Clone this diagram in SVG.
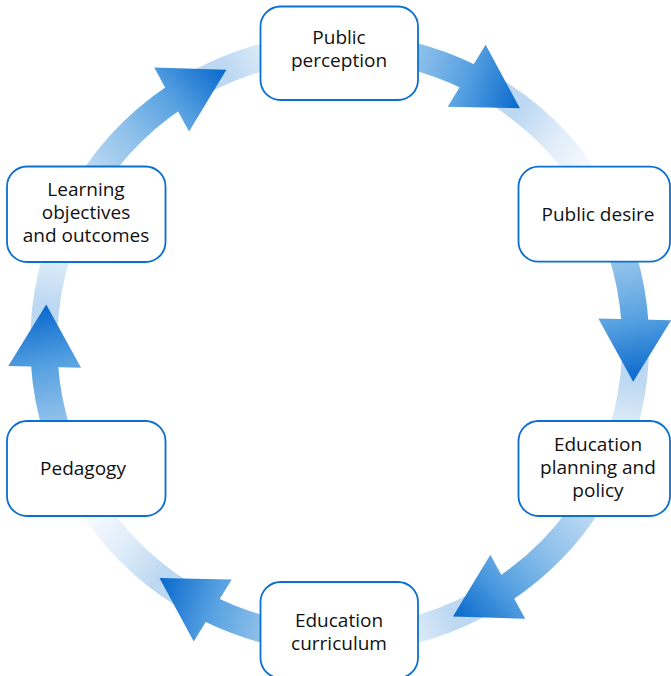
<svg xmlns="http://www.w3.org/2000/svg" xmlns:xlink="http://www.w3.org/1999/xlink" width="671" height="676" viewBox="0 0 671 676">
  <style>
    .box { fill: #ffffff; stroke: #0b6fcf; stroke-width: 1.8; }
    .label { font-family: "Open Sans", "Noto Sans", "Liberation Sans", sans-serif; font-size: 19px; fill: #111111; text-anchor: middle; }
    .band { fill: none; stroke-width: 27; stroke-linecap: butt; }
  </style>
  <defs>
    <!-- shaft + head shading: light behind the source node, deep blue at the tip -->
    <linearGradient id="shaftGrad" gradientUnits="userSpaceOnUse" x1="226.75" y1="-190.27" x2="296" y2="0">
      <stop offset="0" stop-color="#d6e8f8"/>
      <stop offset="0.2" stop-color="#b6d6f2"/>
      <stop offset="0.45" stop-color="#8cbfea"/>
      <stop offset="0.7" stop-color="#57a1e1"/>
      <stop offset="1" stop-color="#0868cc"/>
    </linearGradient>
    <!-- faint trail past the tip, fading out toward the next node -->
    <linearGradient id="tailGrad" gradientUnits="userSpaceOnUse" x1="296" y1="0" x2="300" y2="135">
      <stop offset="0" stop-color="#bcd8f2"/>
      <stop offset="0.35" stop-color="#e0edf9"/>
      <stop offset="0.7" stop-color="#f8fbfe"/>
      <stop offset="1" stop-color="#ffffff"/>
    </linearGradient>
    <!-- one curved arrow on the ring (radius 296), tip at angle 0 -->
    <g id="ringArrow">
      <path class="band" stroke="url(#tailGrad)" d="M 294.87 -25.80 A 296 296 0 0 1 268.27 125.10"/>
      <path class="band" stroke="url(#shaftGrad)" d="M 226.75 -190.27 A 296 296 0 0 1 290.56 -56.48"/>
      <polygon fill="url(#shaftGrad)" points="296,0 325.6,-65.9 253.2,-58.2"/>
    </g>
  </defs>

  <rect width="671" height="676" fill="#ffffff"/>

  <g id="connectors">
    <use id="arrow-perception-desire" xlink:href="#ringArrow" transform="translate(339.7 343.1) rotate(-52.5)"/>
    <use id="arrow-desire-planning" xlink:href="#ringArrow" transform="translate(339.7 343.1) rotate(7.5)"/>
    <use id="arrow-planning-curriculum" xlink:href="#ringArrow" transform="translate(339.7 343.1) rotate(67.5)"/>
    <use id="arrow-curriculum-pedagogy" xlink:href="#ringArrow" transform="translate(339.7 343.1) rotate(127.5)"/>
    <use id="arrow-pedagogy-learning" xlink:href="#ringArrow" transform="translate(339.7 343.1) rotate(187.5)"/>
    <use id="arrow-learning-perception" xlink:href="#ringArrow" transform="translate(339.7 343.1) rotate(247.5)"/>
  </g>

  <g id="node-public-perception">
    <rect class="box" x="260.5" y="6.5" width="157.5" height="93.5" rx="20"/>
    <text class="label" x="339" y="44.3">Public<tspan x="339" dy="22.7">perception</tspan></text>
  </g>

  <g id="node-public-desire">
    <rect class="box" x="518.5" y="166.7" width="151.5" height="95" rx="20"/>
    <text class="label" x="598" y="220.7">Public desire</text>
  </g>

  <g id="node-education-planning">
    <rect class="box" x="518.5" y="421" width="151.5" height="95" rx="20"/>
    <text class="label" x="598" y="450.5">Education<tspan x="598" dy="23">planning and</tspan><tspan x="598" dy="23">policy</tspan></text>
  </g>

  <g id="node-education-curriculum">
    <rect class="box" x="260.5" y="582" width="157.5" height="96" rx="20"/>
    <text class="label" x="339" y="627.3">Education<tspan x="339" dy="22.7">curriculum</tspan></text>
  </g>

  <g id="node-pedagogy">
    <rect class="box" x="7" y="421" width="158.5" height="95" rx="20"/>
    <text class="label" x="83" y="475">Pedagogy</text>
  </g>

  <g id="node-learning-objectives">
    <rect class="box" x="7" y="166.5" width="158.5" height="95.5" rx="20"/>
    <text class="label" x="86" y="195.7">Learning<tspan x="86" dy="22.8">objectives</tspan><tspan x="86" dy="23.2">and outcomes</tspan></text>
  </g>
</svg>
